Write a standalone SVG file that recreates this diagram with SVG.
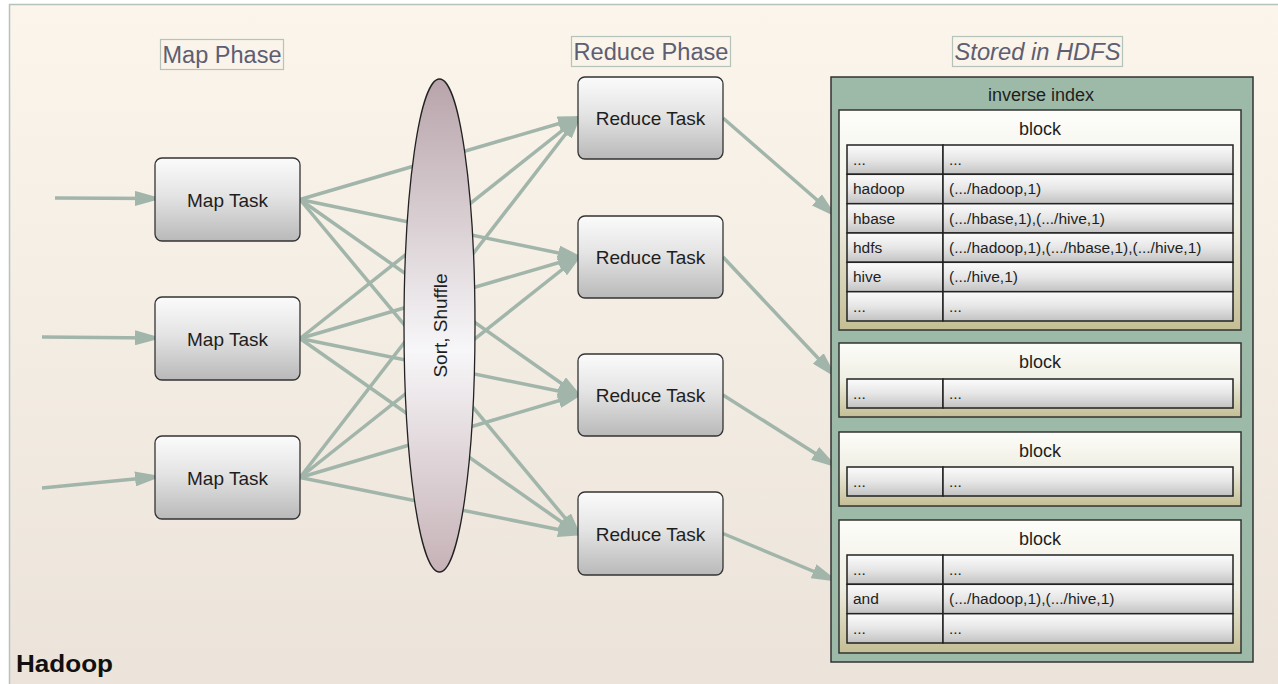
<svg xmlns="http://www.w3.org/2000/svg" width="1278" height="684" viewBox="0 0 1278 684">
  <defs>
    <linearGradient id="bgGrad" x1="0" y1="0" x2="0" y2="1">
      <stop offset="0" stop-color="#fbf5eb"/>
      <stop offset="1" stop-color="#ebe3d9"/>
    </linearGradient>
    <linearGradient id="taskGrad" x1="0" y1="0" x2="0" y2="1">
      <stop offset="0" stop-color="#fbfbfb"/>
      <stop offset="0.45" stop-color="#e4e4e4"/>
      <stop offset="1" stop-color="#b9b9b9"/>
    </linearGradient>
    <linearGradient id="shuffleGrad" x1="0" y1="0" x2="0" y2="1">
      <stop offset="0" stop-color="#b8a4aa"/>
      <stop offset="0.55" stop-color="#f7f6f8"/>
      <stop offset="1" stop-color="#c6b2b7"/>
    </linearGradient>
    <linearGradient id="blockGrad" x1="0" y1="0" x2="0" y2="1">
      <stop offset="0" stop-color="#fdfdfa"/>
      <stop offset="0.5" stop-color="#efeee2"/>
      <stop offset="1" stop-color="#c4be94"/>
    </linearGradient>
    <linearGradient id="cellGrad" x1="0" y1="0" x2="0" y2="1">
      <stop offset="0" stop-color="#fcfcfc"/>
      <stop offset="0.5" stop-color="#e6e6e6"/>
      <stop offset="1" stop-color="#c2c2c2"/>
    </linearGradient>
    <marker id="arrow" markerUnits="userSpaceOnUse" markerWidth="27" markerHeight="15" refX="20" refY="7.5" orient="auto">
      <path d="M0,0 L27,7.5 L0,15 z" fill="#a2b5aa"/>
    </marker>
    <style>
      .title { font-family: "Liberation Sans", Arial, sans-serif; font-size: 23px; fill: #5e5e72; text-anchor: middle; }
      .titlebox { fill: none; stroke: #b5c3bb; stroke-width: 1.2; }
      .task { fill: url(#taskGrad); stroke: #333; stroke-width: 1.3; }
      .label { font-family: "Liberation Sans", Arial, sans-serif; font-size: 19px; fill: #1e1e1e; text-anchor: middle; }
      .edge { stroke: #a2b5aa; stroke-width: 3.5; fill: none; marker-end: url(#arrow); }
      .panel { fill: #9dbaa8; stroke: #333; stroke-width: 1.5; }
      .block { fill: url(#blockGrad); stroke: #333; stroke-width: 1.5; }
      .cell { fill: url(#cellGrad); stroke: #222; stroke-width: 1.5; }
      .head { font-family: "Liberation Sans", Arial, sans-serif; font-size: 18px; fill: #1e1e1e; text-anchor: middle; }
      .ct { font-family: "Liberation Sans", Arial, sans-serif; font-size: 15.5px; fill: #1e1e1e; }
    </style>
  </defs>

  <!-- canvas -->
  <rect x="9.5" y="4.5" width="1290" height="700" fill="url(#bgGrad)" stroke="#b5c3bb" stroke-width="1.5"/>

  <!-- phase titles -->
  <g id="title-map">
    <rect class="titlebox" x="160.5" y="39.5" width="123" height="30"/>
    <text class="title" x="222" y="63" textLength="119" lengthAdjust="spacingAndGlyphs">Map Phase</text>
  </g>
  <g id="title-reduce">
    <rect class="titlebox" x="571.5" y="36.5" width="159" height="30"/>
    <text class="title" x="651" y="60" textLength="155" lengthAdjust="spacingAndGlyphs">Reduce Phase</text>
  </g>
  <g id="title-hdfs">
    <rect class="titlebox" x="952.5" y="36.5" width="170" height="30"/>
    <text class="title" x="1037.5" y="60" font-style="italic" textLength="166" lengthAdjust="spacingAndGlyphs">Stored in HDFS</text>
  </g>

  <!-- connectors -->
  <g id="connectors">
    <line class="edge" x1="55" y1="198" x2="155" y2="198.5"/>
    <line class="edge" x1="42" y1="337" x2="155" y2="338"/>
    <line class="edge" x1="42" y1="488" x2="155" y2="477"/>

    <line class="edge" x1="300" y1="199.5" x2="578" y2="118"/>
    <line class="edge" x1="300" y1="199.5" x2="578" y2="257"/>
    <line class="edge" x1="300" y1="199.5" x2="578" y2="395"/>
    <line class="edge" x1="300" y1="199.5" x2="578" y2="533.5"/>

    <line class="edge" x1="300" y1="338.5" x2="578" y2="118"/>
    <line class="edge" x1="300" y1="338.5" x2="578" y2="257"/>
    <line class="edge" x1="300" y1="338.5" x2="578" y2="395"/>
    <line class="edge" x1="300" y1="338.5" x2="578" y2="533.5"/>

    <line class="edge" x1="300" y1="477.5" x2="578" y2="118"/>
    <line class="edge" x1="300" y1="477.5" x2="578" y2="257"/>
    <line class="edge" x1="300" y1="477.5" x2="578" y2="395"/>
    <line class="edge" x1="300" y1="477.5" x2="578" y2="533.5"/>

    <line class="edge" x1="723" y1="118" x2="832" y2="213"/>
    <line class="edge" x1="723" y1="257" x2="832" y2="373"/>
    <line class="edge" x1="723" y1="395" x2="832" y2="464"/>
    <line class="edge" x1="723" y1="533.5" x2="832" y2="579"/>
  </g>

  <!-- map tasks -->
  <g id="map-1">
    <rect class="task" x="155" y="158" width="145" height="83" rx="7"/>
    <text class="label" x="227.5" y="206.5">Map Task</text>
  </g>
  <g id="map-2">
    <rect class="task" x="155" y="297" width="145" height="83" rx="7"/>
    <text class="label" x="227.5" y="345.5">Map Task</text>
  </g>
  <g id="map-3">
    <rect class="task" x="155" y="436" width="145" height="83" rx="7"/>
    <text class="label" x="227.5" y="484.5">Map Task</text>
  </g>

  <!-- shuffle stage -->
  <g id="shuffle">
    <ellipse cx="439.5" cy="325.5" rx="35.5" ry="246.5" fill="url(#shuffleGrad)" stroke="#222" stroke-width="1.3"/>
    <text class="label" font-size="20" transform="translate(446.5,325.5) rotate(-90)" x="0" y="0">Sort, Shuffle</text>
  </g>

  <!-- reduce tasks -->
  <g id="reduce-1">
    <rect class="task" x="578" y="77" width="145" height="82" rx="7"/>
    <text class="label" x="650.5" y="125">Reduce Task</text>
  </g>
  <g id="reduce-2">
    <rect class="task" x="578" y="216" width="145" height="82" rx="7"/>
    <text class="label" x="650.5" y="264">Reduce Task</text>
  </g>
  <g id="reduce-3">
    <rect class="task" x="578" y="354" width="145" height="82" rx="7"/>
    <text class="label" x="650.5" y="402">Reduce Task</text>
  </g>
  <g id="reduce-4">
    <rect class="task" x="578" y="492" width="145" height="83" rx="7"/>
    <text class="label" x="650.5" y="540.5">Reduce Task</text>
  </g>

  <!-- inverse index stored in HDFS -->
  <g id="hdfs">
    <rect class="panel" x="831" y="77" width="422" height="585"/>
    <text class="head" x="1041" y="101">inverse index</text>

    <g id="block-1">
      <rect class="block" x="839" y="110" width="402" height="220"/>
      <text class="head" x="1040" y="135">block</text>
      <rect class="cell" x="847" y="145" width="96" height="29.3"/>
      <rect class="cell" x="943" y="145" width="290" height="29.3"/>
      <rect class="cell" x="847" y="174.3" width="96" height="29.4"/>
      <rect class="cell" x="943" y="174.3" width="290" height="29.4"/>
      <rect class="cell" x="847" y="203.7" width="96" height="29.3"/>
      <rect class="cell" x="943" y="203.7" width="290" height="29.3"/>
      <rect class="cell" x="847" y="233" width="96" height="29.3"/>
      <rect class="cell" x="943" y="233" width="290" height="29.3"/>
      <rect class="cell" x="847" y="262.3" width="96" height="29.4"/>
      <rect class="cell" x="943" y="262.3" width="290" height="29.4"/>
      <rect class="cell" x="847" y="291.7" width="96" height="29.3"/>
      <rect class="cell" x="943" y="291.7" width="290" height="29.3"/>
      <text class="ct" x="853" y="165">...</text>
      <text class="ct" x="949" y="165">...</text>
      <text class="ct" x="853" y="194.3">hadoop</text>
      <text class="ct" x="949" y="194.3">(.../hadoop,1)</text>
      <text class="ct" x="853" y="223.7">hbase</text>
      <text class="ct" x="949" y="223.7">(.../hbase,1),(.../hive,1)</text>
      <text class="ct" x="853" y="253">hdfs</text>
      <text class="ct" x="949" y="253">(.../hadoop,1),(.../hbase,1),(.../hive,1)</text>
      <text class="ct" x="853" y="282.3">hive</text>
      <text class="ct" x="949" y="282.3">(.../hive,1)</text>
      <text class="ct" x="853" y="311.7">...</text>
      <text class="ct" x="949" y="311.7">...</text>
    </g>

    <g id="block-2">
      <rect class="block" x="839" y="343" width="402" height="74"/>
      <text class="head" x="1040" y="368">block</text>
      <rect class="cell" x="847" y="379" width="96" height="29"/>
      <rect class="cell" x="943" y="379" width="290" height="29"/>
      <text class="ct" x="853" y="399">...</text>
      <text class="ct" x="949" y="399">...</text>
    </g>

    <g id="block-3">
      <rect class="block" x="839" y="432" width="402" height="74"/>
      <text class="head" x="1040" y="457">block</text>
      <rect class="cell" x="847" y="467" width="96" height="29"/>
      <rect class="cell" x="943" y="467" width="290" height="29"/>
      <text class="ct" x="853" y="487">...</text>
      <text class="ct" x="949" y="487">...</text>
    </g>

    <g id="block-4">
      <rect class="block" x="839" y="520" width="402" height="133"/>
      <text class="head" x="1040" y="545">block</text>
      <rect class="cell" x="847" y="555" width="96" height="29.3"/>
      <rect class="cell" x="943" y="555" width="290" height="29.3"/>
      <rect class="cell" x="847" y="584.3" width="96" height="29.4"/>
      <rect class="cell" x="943" y="584.3" width="290" height="29.4"/>
      <rect class="cell" x="847" y="613.7" width="96" height="29.3"/>
      <rect class="cell" x="943" y="613.7" width="290" height="29.3"/>
      <text class="ct" x="853" y="575">...</text>
      <text class="ct" x="949" y="575">...</text>
      <text class="ct" x="853" y="604.3">and</text>
      <text class="ct" x="949" y="604.3">(.../hadoop,1),(.../hive,1)</text>
      <text class="ct" x="853" y="633.7">...</text>
      <text class="ct" x="949" y="633.7">...</text>
    </g>
  </g>

  <!-- frame caption -->
  <text x="16" y="672" font-family="Liberation Sans, Arial, sans-serif" font-size="24" font-weight="bold" fill="#111" textLength="97" lengthAdjust="spacingAndGlyphs">Hadoop</text>
</svg>
